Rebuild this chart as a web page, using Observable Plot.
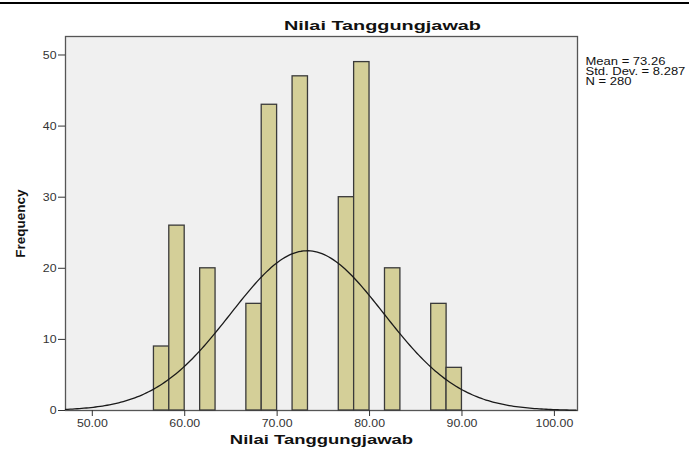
<!DOCTYPE html>
<html>
<head>
<meta charset="utf-8">
<script src="https://cdn.jsdelivr.net/npm/d3@7"></script>
<script src="https://cdn.jsdelivr.net/npm/@observablehq/plot@0.6"></script>
<style>
  html, body { margin: 0; padding: 0; background: #fff; }
  #wrap { position: relative; width: 689px; height: 452px; }
  #topline { position: absolute; left: 0; top: 2px; width: 689px; height: 2px; background: #000; }
</style>
</head>
<body>
<div id="wrap"><div id="topline"></div></div>
<script>
// ---- data ----
const binStart = [56.67, 58.33, 61.67, 66.67, 68.33, 71.67, 76.67, 78.33, 81.67, 86.67, 88.33];
const counts   = [9, 26, 20, 15, 43, 47, 30, 49, 20, 15, 6];
const binWidth = 5 / 3;
const xTicks = [50, 60, 70, 80, 90, 100];
const yTicks = [0, 10, 20, 30, 40, 50];
const meanVal = 73.26;
const sdVal = 8.287;
const nVal = 280;
const titleText = "Nilai Tanggungjawab";
const xLabel = "Nilai Tanggungjawab";
const yLabel = "Frequency";
const statsText = [`Mean = ${meanVal.toFixed(2)}`, `Std. Dev. = ${sdVal.toFixed(3)}`, `N = ${nVal}`];

const xDomain = [47.1, 102.5];
const bars = binStart.map((s, i) => ({x1: s, x2: s + binWidth, y: counts[i]}));

// normal curve implied by the displayed Mean, Std. Dev. and N
const curve = d3.range(xDomain[0], xDomain[1] + 0.001, 0.25).map(x => ({
  x,
  y: nVal * binWidth * Math.exp(-0.5 * ((x - meanVal) / sdVal) ** 2) / (sdVal * Math.sqrt(2 * Math.PI))
}));

const font = "'Liberation Sans', Arial, sans-serif";

const chart = Plot.plot({
  width: 689,
  height: 452,
  marginLeft: 65,
  marginRight: 112,
  marginTop: 36,
  marginBottom: 42,
  style: {fontFamily: font, fontSize: "11px", background: "transparent", color: "#222", overflow: "visible"},
  x: {domain: xDomain},
  y: {domain: [0, 52.6]},
  marks: [
    Plot.frame({fill: "#f0f0f0", stroke: "#555", strokeWidth: 1.3}),
    Plot.rectY(bars, {x1: "x1", x2: "x2", y: "y", fill: "#d4cf98", stroke: "#3a3a3a", strokeWidth: 1.3}),
    Plot.line(curve, {x: "x", y: "y", stroke: "#1a1a1a", strokeWidth: 1.3}),
    Plot.axisX({ticks: xTicks, tickFormat: d3.format(".2f"), tickSize: 6, tickPadding: 3, label: null, fontSize: 11, stroke: "#333", fill: "#333", className: "tk"}),
    Plot.axisY({ticks: yTicks, tickSize: 7, tickPadding: 2, label: null, fontSize: 11, stroke: "#333", fill: "#333", className: "tk"}),
    Plot.text([titleText], {frameAnchor: "top", text: d => d, dy: -16, dx: 61, fontSize: 13.5, fontWeight: "bold", fill: "#111", className: "ttl"}),
    Plot.text([xLabel], {frameAnchor: "bottom", text: d => d, dy: 33, fontSize: 13, fontWeight: "bold", fill: "#111", className: "xttl"}),
    Plot.text([yLabel], {frameAnchor: "left", text: d => d, rotate: -90, textAnchor: "middle", dx: -45, fontSize: 13.5, fontWeight: "bold", fill: "#111"}),
    Plot.text([statsText[0]], {frameAnchor: "top-right", text: d => d, textAnchor: "start", lineAnchor: "top", dx: 8, dy: 21.5, fontSize: 10, fill: "#111", className: "st"}),
    Plot.text([statsText[1]], {frameAnchor: "top-right", text: d => d, textAnchor: "start", lineAnchor: "top", dx: 8, dy: 31.5, fontSize: 10, fill: "#111", className: "st"}),
    Plot.text([statsText[2]], {frameAnchor: "top-right", text: d => d, textAnchor: "start", lineAnchor: "top", dx: 8, dy: 41.5, fontSize: 10, fill: "#111", className: "st"})
  ]
});
chart.style.position = "absolute";
chart.style.left = "0";
chart.style.top = "0";
document.getElementById("wrap").appendChild(chart);

// the reference's lettering is drawn horizontally wider than plain Arial
function widen(selector, factor) {
  chart.querySelectorAll(selector).forEach(el => {
    const w = el.getComputedTextLength();
    el.setAttribute("textLength", (w * factor).toFixed(2));
    el.setAttribute("lengthAdjust", "spacingAndGlyphs");
  });
}
widen(".tk text", 1.12);
widen(".ttl text", 1.47);
widen(".xttl text", 1.42);
widen(".st text", 1.3);
</script>
</body>
</html>
